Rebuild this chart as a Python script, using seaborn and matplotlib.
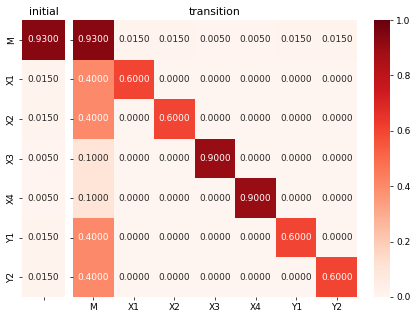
import numpy as np
import pandas as pd
import matplotlib
matplotlib.use("Agg")
import matplotlib.pyplot as plt
import seaborn as sns

# states and probabilities
states = ["M", "X1", "X2", "X3", "X4", "Y1", "Y2"]
initial = [0.93, 0.015, 0.015, 0.005, 0.005, 0.015, 0.015]
trans_M = [0.93, 0.015, 0.015, 0.005, 0.005, 0.015, 0.015]
trans_X1 = [0.4, 0.6, 0.0, 0.0, 0.0, 0.0, 0.0]
trans_X2 = [0.4, 0.0, 0.6, 0.0, 0.0, 0.0, 0.0]
trans_X3 = [0.1, 0.0, 0.0, 0.9, 0.0, 0.0, 0.0]
trans_X4 = [0.1, 0.0, 0.0, 0.0, 0.9, 0.0, 0.0]
trans_Y1 = [0.4, 0.0, 0.0, 0.0, 0.0, 0.6, 0.0]
trans_Y2 = [0.4, 0.0, 0.0, 0.0, 0.0, 0.0, 0.6]

init_df = pd.DataFrame({"": initial}, index=states)
trans_df = pd.DataFrame([trans_M, trans_X1, trans_X2, trans_X3, trans_X4, trans_Y1, trans_Y2],
                        index=states, columns=states)

fig = plt.figure(figsize=(416 / 65, 319 / 65), dpi=65)
ax_init = fig.add_axes([22 / 416, 22 / 319, 43 / 416, 277 / 319])
ax_trans = fig.add_axes([73 / 416, 22 / 319, 284 / 416, 277 / 319])
ax_cbar = fig.add_axes([374 / 416, 22 / 319, 16 / 416, 277 / 319])

sns.heatmap(init_df, ax=ax_init, cmap="Reds", vmin=0, vmax=1, annot=True, fmt=".4f", cbar=False)
ax_init.set_title("initial")
ax_init.set_xticklabels([""])

sns.heatmap(trans_df, ax=ax_trans, cmap="Reds", vmin=0, vmax=1, annot=True, fmt=".4f",
            cbar_ax=ax_cbar)
ax_trans.set_title("transition")
ax_trans.set_yticklabels([])

fig.savefig("out.png", dpi=65)
